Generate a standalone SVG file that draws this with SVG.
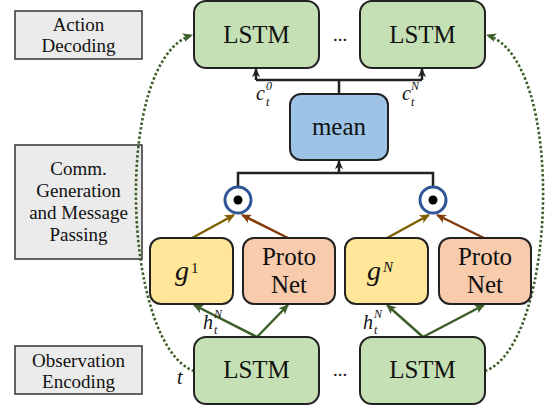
<svg xmlns="http://www.w3.org/2000/svg" width="554" height="409" viewBox="0 0 554 409" font-family="'Liberation Serif', 'Times New Roman', 'DejaVu Serif', serif">
<style>
.lbl{fill:#ebebeb;stroke:#333;stroke-width:1.5}
.lstm{fill:#c5e0b4;stroke:#222;stroke-width:2}
.mean{fill:#9dc3e6;stroke:#222;stroke-width:2}
.g{fill:#ffe699;stroke:#222;stroke-width:2}
.pn{fill:#f8cbad;stroke:#222;stroke-width:2}
text{font-family:'Liberation Serif','Times New Roman','DejaVu Serif',serif;fill:#111}
.t19{font-size:19px;text-anchor:middle}
.t25{font-size:25px;text-anchor:middle}
.m{font-style:italic}
.blk{fill:none;stroke:#222;stroke-width:2.5}
.grn{fill:none;stroke:#3d5e28;stroke-width:2.5}
.olv{fill:none;stroke:#7f6000;stroke-width:2.5}
.brn{fill:none;stroke:#843c0c;stroke-width:2.5}
.dot{fill:none;stroke:#3d5e28;stroke-width:2.6;stroke-dasharray:2.5 2.2}
</style>
<defs>
<marker id="aK" viewBox="0 0 10 10" refX="9" refY="5" markerWidth="9" markerHeight="9" markerUnits="userSpaceOnUse" orient="auto"><path d="M0,0.5 L10,5 L0,9.5 L2.5,5 Z" fill="#222"/></marker>
<marker id="aG" viewBox="0 0 10 10" refX="9" refY="5" markerWidth="10" markerHeight="10" markerUnits="userSpaceOnUse" orient="auto"><path d="M0,0.5 L10,5 L0,9.5 L2.5,5 Z" fill="#3d5e28"/></marker>
<marker id="aO" viewBox="0 0 10 10" refX="9" refY="5" markerWidth="10" markerHeight="10" markerUnits="userSpaceOnUse" orient="auto"><path d="M0,0.5 L10,5 L0,9.5 L2.5,5 Z" fill="#7f6000"/></marker>
<marker id="aB" viewBox="0 0 10 10" refX="9" refY="5" markerWidth="10" markerHeight="10" markerUnits="userSpaceOnUse" orient="auto"><path d="M0,0.5 L10,5 L0,9.5 L2.5,5 Z" fill="#843c0c"/></marker>
</defs>

<g id="label-action">
<rect class="lbl" x="15" y="11" width="127" height="48"/>
<text class="t19" x="78.5" y="31">Action</text>
<text class="t19" x="78.5" y="52">Decoding</text>
</g>
<g id="label-comm">
<rect class="lbl" x="15" y="145" width="127" height="114"/>
<text class="t19" x="78.5" y="175">Comm.</text>
<text class="t19" x="78.5" y="197">Generation</text>
<text class="t19" x="78.5" y="219">and Message</text>
<text class="t19" x="78.5" y="241">Passing</text>
</g>
<g id="label-obs">
<rect class="lbl" x="15" y="346" width="127" height="48"/>
<text class="t19" x="78.5" y="367">Observation</text>
<text class="t19" x="78.5" y="388">Encoding</text>
</g>

<g id="connectors">
<path class="blk" d="M256,80 H422 M339,80 V94"/>
<path class="blk" d="M256,80 V69" marker-end="url(#aK)"/>
<path class="blk" d="M422,80 V69" marker-end="url(#aK)"/>
<path class="blk" d="M238,186 V173 H433 V186"/>
<path class="blk" d="M339,173 V161" marker-end="url(#aK)"/>
<path class="olv" d="M192,238 L234,215" marker-end="url(#aO)"/>
<path class="brn" d="M288,238 L242,215" marker-end="url(#aB)"/>
<path class="olv" d="M387,238 L429,215" marker-end="url(#aO)"/>
<path class="brn" d="M484,238 L437,215" marker-end="url(#aB)"/>
<path class="grn" d="M257,337 L194,305" marker-end="url(#aG)"/>
<path class="grn" d="M257,337 L288,305" marker-end="url(#aG)"/>
<path class="grn" d="M423,337 L387,305" marker-end="url(#aG)"/>
<path class="grn" d="M423,337 L484,305" marker-end="url(#aG)"/>
<path class="dot" d="M194,371 C122,345 112,60 192,35" marker-end="url(#aG)"/>
<path class="dot" d="M485,371 C557,345 567,60 487,35" marker-end="url(#aG)"/>
<text class="m" x="256" y="100" font-size="20">c</text>
<text class="m" x="266" y="90" font-size="12">0</text>
<text class="m" x="266" y="106" font-size="12">t</text>
<text class="m" x="402" y="100" font-size="20">c</text>
<text class="m" x="411" y="90" font-size="12">N</text>
<text class="m" x="411" y="106" font-size="12">t</text>
<text class="m" x="203" y="329" font-size="20">h</text>
<text class="m" x="214" y="318" font-size="12">N</text>
<text class="m" x="214" y="334" font-size="12">t</text>
<text class="m" x="363" y="329" font-size="20">h</text>
<text class="m" x="374" y="318" font-size="12">N</text>
<text class="m" x="374" y="334" font-size="12">t</text>
<text class="m" x="177" y="384" font-size="20">t</text>
</g>

<g id="lstm-dec-1"><rect class="lstm" x="194" y="1" width="125" height="67" rx="12"/><text class="t25" x="256.5" y="43">LSTM</text></g>
<g id="dots-top"><text class="t19" x="340" y="41">...</text></g>
<g id="lstm-dec-N"><rect class="lstm" x="360" y="1" width="125" height="67" rx="12"/><text class="t25" x="422.5" y="43">LSTM</text></g>
<g id="mean"><rect class="mean" x="290" y="94" width="98" height="66" rx="11"/><text class="t25" x="339" y="135">mean</text></g>
<g id="dot-1"><circle cx="238" cy="200" r="13" fill="#fff" stroke="#2f5597" stroke-width="3"/><circle cx="238" cy="200" r="4.5" fill="#000"/></g>
<g id="dot-N"><circle cx="433" cy="200" r="13" fill="#fff" stroke="#2f5597" stroke-width="3"/><circle cx="433" cy="200" r="4.5" fill="#000"/></g>
<g id="g-1"><rect class="g" x="150" y="238" width="83" height="66" rx="11"/><text x="175" y="280" font-size="28" class="m">g</text><text x="191" y="273" font-size="15">1</text></g>
<g id="proto-1"><rect class="pn" x="243" y="238" width="92" height="66" rx="11"/><text class="t25" x="289" y="265">Proto</text><text class="t25" x="289" y="293">Net</text></g>
<g id="g-N"><rect class="g" x="345" y="238" width="83" height="66" rx="11"/><text x="367" y="280" font-size="28" class="m">g</text><text x="383" y="272" font-size="15" class="m">N</text></g>
<g id="proto-N"><rect class="pn" x="439" y="238" width="92" height="66" rx="11"/><text class="t25" x="485" y="265">Proto</text><text class="t25" x="485" y="293">Net</text></g>
<g id="lstm-enc-1"><rect class="lstm" x="194" y="337" width="125" height="67" rx="12"/><text class="t25" x="256.5" y="378">LSTM</text></g>
<g id="dots-bot"><text class="t19" x="340" y="376">...</text></g>
<g id="lstm-enc-N"><rect class="lstm" x="360" y="337" width="125" height="67" rx="12"/><text class="t25" x="422.5" y="378">LSTM</text></g>
</svg>
